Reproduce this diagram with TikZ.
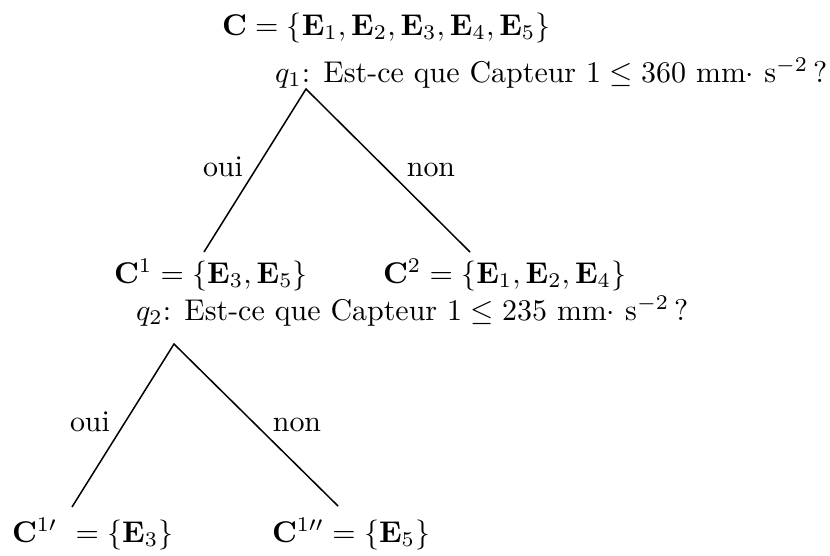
\documentclass[tikz,border=0pt]{standalone}
\usepackage{amsmath}
\begin{document}
\begin{tikzpicture}[x=0.3338pt,y=-0.3338pt,
  txt/.style={anchor=base west,inner sep=0pt,outer sep=0pt},
  lbl/.style={anchor=base,inner sep=0pt,outer sep=0pt},
  branch/.style={line width=0.5pt}]
\useasboundingbox (0,0) rectangle (830,556);
% texts
\node[txt] (root) at (222,35) {$\mathbf{C}=\{\mathbf{E}_1,\mathbf{E}_2,\mathbf{E}_3,\mathbf{E}_4,\mathbf{E}_5\}$};
\node[txt] (q1) at (275,82) {$q_1$: Est-ce que Capteur $1\leq 360$ mm$\cdot$ s$^{-2}$\,?};
\node[txt] (c1) at (114,283) {$\mathbf{C}^1=\{\mathbf{E}_3,\mathbf{E}_5\}$};
\node[txt] (c2) at (383,283) {$\mathbf{C}^2=\{\mathbf{E}_1,\mathbf{E}_2,\mathbf{E}_4\}$};
\node[txt] (q2) at (136,320) {$q_2$: Est-ce que Capteur $1\leq 235$ mm$\cdot$ s$^{-2}$\,?};
\node[txt] (c11) at (12,542) {$\mathbf{C}^{1\prime}\ =\{\mathbf{E}_3\}$};
\node[txt] (c12) at (272,542) {$\mathbf{C}^{1\prime\prime}=\{\mathbf{E}_5\}$};
% branch points
\coordinate (a1) at (306,89);
\coordinate (l1) at (204,252);
\coordinate (r1) at (470,252);
\coordinate (a2) at (174,344);
\coordinate (l2) at (72,507);
\coordinate (r2) at (338,506);
\draw[branch] (l1) -- (a1) -- (r1);
\draw[branch] (l2) -- (a2) -- (r2);
% edge labels
\node[lbl] (oui1) at (223,176) {oui};
\node[lbl] (non1) at (431,176) {non};
\node[lbl] (oui2) at (90,431) {oui};
\node[lbl] (non2) at (297,431) {non};
\end{tikzpicture}
\end{document}
